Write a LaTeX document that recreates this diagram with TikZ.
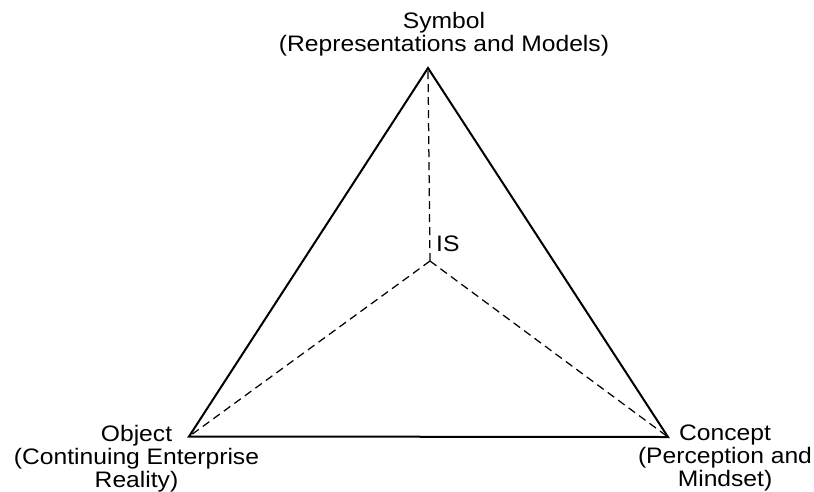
\documentclass[tikz,border=0pt]{standalone}
\usepackage{fontspec}
\setmainfont{Liberation Sans}[FakeStretch=1.1]
\begin{document}
\begin{tikzpicture}[x=1pt,y=-1pt,
  edge/.style={line width=2pt, line join=miter},
  spoke/.style={line width=1.25pt, dash pattern=on 8pt off 5pt},
  lbl/.style={inner sep=0pt, align=center, font=\fontsize{22.4}{23}\selectfont, anchor=north}]
\useasboundingbox (0,0) rectangle (814,491);
\coordinate (S) at (428,68);
\coordinate (O) at (189,436.5);
\coordinate (K) at (668,437);
\coordinate (C) at (430,261);
\draw[spoke] (C) -- (S);
\draw[spoke] (C) -- (O);
\draw[spoke] (C) -- (K);
\draw[edge] (S) -- (O) -- (K) -- cycle;
\node[lbl] (sym) at (444,12) {Symbol\\(Representations and Models)};
\node[lbl] (obj) at (136.5,425) {Object\\(Continuing Enterprise\\Reality)};
\node[lbl] (con) at (725,425) {Concept\\(Perception and\\Mindset)};
\node[inner sep=0pt, anchor=north west, font=\fontsize{22.4}{23}\selectfont] (is) at (436,236) {IS};
\end{tikzpicture}
\end{document}
